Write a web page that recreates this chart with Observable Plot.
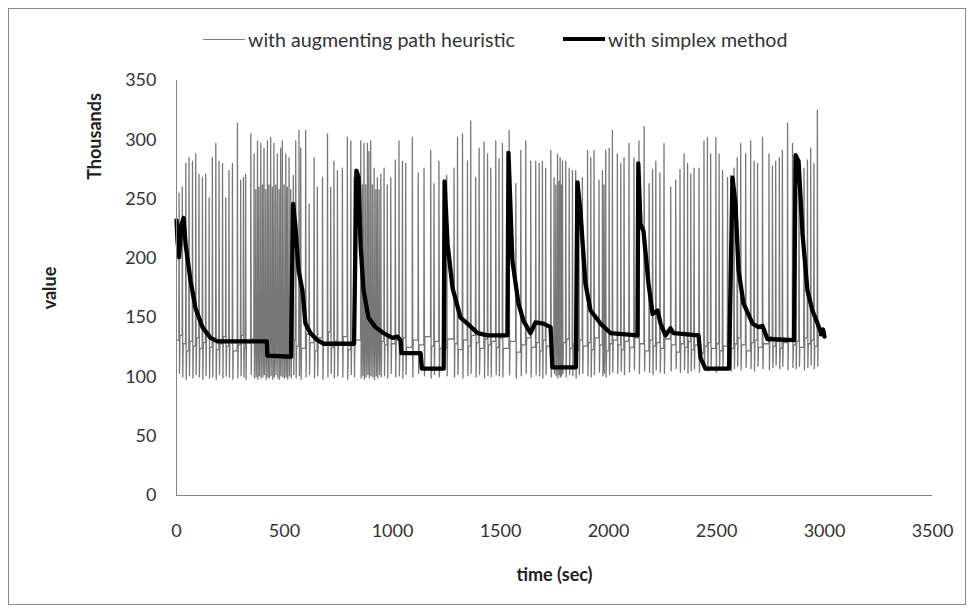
<!DOCTYPE html>
<html><head><meta charset="utf-8">
<script src="https://cdn.jsdelivr.net/npm/d3@7"></script>
<script src="https://cdn.jsdelivr.net/npm/@observablehq/plot@0.6"></script>
<style>
body{margin:0;background:#fff;font-family:Lato, sans-serif;}
#wrap{position:relative;width:968px;height:608px;overflow:hidden;background:#fff;}
#frame{position:absolute;left:8px;top:8px;width:958px;height:597px;border:1px solid #8a8a8a;box-sizing:border-box;pointer-events:none;}
#legend{position:relative;height:60px;}
.item{position:absolute;top:27px;height:24px;display:flex;align-items:center;font-size:19.6px;color:#333;white-space:nowrap;}
.sw{display:inline-block;width:42px;margin-right:3px;}
</style>
</head><body>
<div id="wrap">
  <div id="legend">
    <div class="item" style="left:203px"><span class="sw" style="border-top:1px solid #7a7a7a"></span>with augmenting path heuristic</div>
    <div class="item" style="left:563px"><span class="sw" style="border-top:4px solid #000"></span>with simplex method</div>
  </div>
  <div id="frame"></div>
</div>
<script>
// Axis ticks
const xTicks = [0, 500, 1000, 1500, 2000, 2500, 3000, 3500];
const yTicks = [0, 50, 100, 150, 200, 250, 300, 350];

// "with simplex method" (thousands)
const blackT = [0,5,12,22,33,42,65,88,120,157,190,418,421,530,540,551,565,583,597,620,652,681,822,833,843,852,866,889,921,958,1000,1023,1037,1042,1130,1136,1237,1241,1255,1278,1315,1347,1394,1440,1532,1537,1555,1583,1607,1639,1662,1699,1732,1740,1849,1856,1870,1893,1917,1963,2009,2134,2138,2148,2162,2185,2204,2227,2241,2264,2287,2301,2417,2426,2449,2558,2574,2588,2602,2625,2667,2694,2713,2736,2859,2866,2880,2898,2921,2944,2968,2985,2993,3000];
const blackV = [232,214,201,228,234,212,181,158,142,133,130,130,118,117,246,226,190,173,145,137,131,128,128,274,268,212,173,150,142,137,133,134,131,120,120,107,107,265,212,175,150,145,137,135,135,289,198,162,147,137,146,145,142,108,108,264,240,179,156,145,137,135,280,229,223,179,153,156,145,135,141,137,135,116,107,107,268,246,190,162,145,142,143,132,131,287,282,221,173,156,145,136,140,134];

// "with augmenting path heuristic": spike times, spike peaks, lows after spike, level between spikes (thousands)
const grayStart = 131;
const grayEnd = 2990;
const grayT = [
 11,26,42,57,73,88,103,119,134,150,165,181,196,212,227,242,258,281,296,309,319,343,358,366,374,381,389,397,404,412,420,427,435,443,450,458,466,474,481,489,497,505,512,520,528,540,
 551,566,574,597,613,636,651,675,698,713,728,744,767,790,806,821,852,860,867,875,883,890,898,906,914,922,929,937,945,960,975,991,1012,
 1029,1045,1060,1091,1118,1145,1176,1191,1214,1250,1284,1300,1323,1346,1361,1384,1400,1423,1439,1454,1477,1492,
 1508,1539,1570,1593,1616,1639,1662,1678,1693,1708,1732,1747,1755,1763,1770,1775,1780,1786,1801,1817,1832,1847,1862,1878,1902,1917,1932,1955,1971,1978,1986,2002,2017,
 2040,2056,2071,2094,2117,2140,2164,2187,2203,2218,2237,2256,2287,2310,2330,2349,2365,2380,2395,2418,2441,2457,2472,2496,2511,
 2527,2550,2565,2580,2595,2611,2634,2657,2673,2689,2712,2742,2758,2773,2790,2804,2828,2851,2866,2881,2904,2920,2935,2950,2966];
const grayPeak = [
 255,260,280,285,282,288,271,268,271,251,285,297,282,280,251,274,280,314,266,268,271,305,288,258,299,260,297,262,293,258,299,262,302,260,297,262,288,258,293,299,262,288,260,285,258,270,
 299,308,293,308,246,285,260,268,305,260,282,274,276,302,299,268,299,262,297,262,297,290,299,262,276,258,268,258,271,276,262,268,283,
 299,282,280,302,272,276,291,263,282,270,276,302,305,282,316,268,293,298,288,276,299,284,
 297,308,263,291,299,282,282,280,282,276,291,268,262,288,265,285,262,282,282,276,274,274,265,268,291,285,291,266,274,262,291,293,308,
 288,280,285,297,285,299,311,263,275,282,272,297,260,266,275,288,280,271,276,276,299,302,288,302,288,
 274,268,270,276,285,297,288,299,282,280,302,288,278,282,285,291,314,297,270,282,276,283,293,280,325];
const grayLow = [
 103,100,98,101,99,102,100,98,101,99,100,98,102,99,101,100,98,99,101,100,98,102,99,100,98,101,99,100,102,98,100,99,101,98,100,102,99,98,101,100,99,100,98,101,99,102,
 99,101,98,100,102,99,101,98,100,103,99,101,100,98,102,100,99,101,98,100,102,99,101,100,98,101,99,102,100,101,99,103,100,
 101,99,102,100,103,101,99,102,100,101,100,102,99,101,103,100,102,99,101,100,102,101,
 100,102,99,101,103,100,102,101,99,102,100,103,101,99,102,100,101,103,100,102,101,99,102,103,101,100,102,104,101,103,100,102,104,
 103,105,102,104,106,103,105,104,102,106,104,103,105,107,104,106,103,105,107,104,106,105,107,104,106,
 106,108,105,107,109,106,108,107,105,109,107,106,108,110,107,109,106,108,107,109,106,108,110,107,109];
const grayBase = [
 135,128,122,130,126,133,124,129,137,125,131,123,128,134,126,130,122,127,135,124,129,132,126,121,130,127,124,133,128,122,126,131,125,129,123,134,127,124,130,126,121,129,133,125,128,131,
 126,131,124,136,129,122,133,127,138,125,130,128,134,123,129,131,125,133,127,122,130,126,134,124,129,132,126,121,130,127,133,128,131,
 129,133,125,131,127,134,126,130,124,132,128,123,131,126,135,129,124,132,127,130,125,133,
 124,130,121,127,133,125,129,122,131,126,120,128,123,130,125,127,121,129,132,124,128,122,131,126,129,123,133,127,125,130,122,128,131,
 127,123,130,125,133,128,122,131,126,129,124,132,127,121,128,125,130,123,127,120,126,129,124,128,122,
 126,130,124,128,133,127,122,129,131,125,128,134,126,130,124,129,132,127,130,125,133,128,131,126,135];

const blackPts = blackT.map((t, i) => ({t, v: blackV[i]}));
const grayPts = [{t: 0, v: grayStart}];
let prev = grayStart;
grayT.forEach((t, i) => {
  grayPts.push({t, v: prev});
  grayPts.push({t: t + 1, v: grayPeak[i]});
  grayPts.push({t: t + 3, v: grayLow[i]});
  grayPts.push({t: t + 5, v: grayBase[i]});
  prev = grayBase[i];
});
grayPts.push({t: grayEnd, v: prev});

const axisColor = "#868686";
const chart = Plot.plot({
  width: 968,
  height: 548,
  marginLeft: 176,
  marginRight: 36,
  marginTop: 20,
  marginBottom: 113,
  style: {fontFamily: "Lato, sans-serif", fontSize: "18px", color: "#333", background: "transparent", overflow: "visible"},
  x: {domain: [0, 3500]},
  y: {domain: [0, 350]},
  marks: [
    Plot.axisY({ticks: yTicks, tickSize: 0, tickPadding: 20, label: null, tickFormat: d => String(d)}),
    Plot.axisX({ticks: xTicks, tickSize: 0, tickPadding: 29, label: null, tickFormat: d => String(d)}),
    Plot.line(grayPts, {x: "t", y: "v", stroke: "#777", strokeWidth: 1.3}),
    Plot.line(blackPts, {x: "t", y: "v", stroke: "#000", strokeWidth: 4.3, strokeLinejoin: "round"}),
    Plot.ruleX([0], {stroke: axisColor, strokeWidth: 1}),
    Plot.ruleY([0], {stroke: axisColor, strokeWidth: 1}),
    Plot.text(["value"], {text: d => d, frameAnchor: "left", dx: -126, rotate: -90, textAnchor: "middle", lineAnchor: "middle", fontWeight: "bold", fontSize: 18, fill: "#222"}),
    Plot.text(["Thousands"], {text: d => d, frameAnchor: "top-left", dx: -81, dy: 56, rotate: -90, textAnchor: "middle", lineAnchor: "middle", fontWeight: "bold", fontSize: 18, fill: "#222"}),
    Plot.text(["time (sec)"], {text: d => d, frameAnchor: "bottom", dy: 80, textAnchor: "middle", lineAnchor: "middle", fontWeight: "bold", fontSize: 18, fill: "#222"})
  ]
});
document.getElementById("wrap").appendChild(chart);
</script>
</body></html>
